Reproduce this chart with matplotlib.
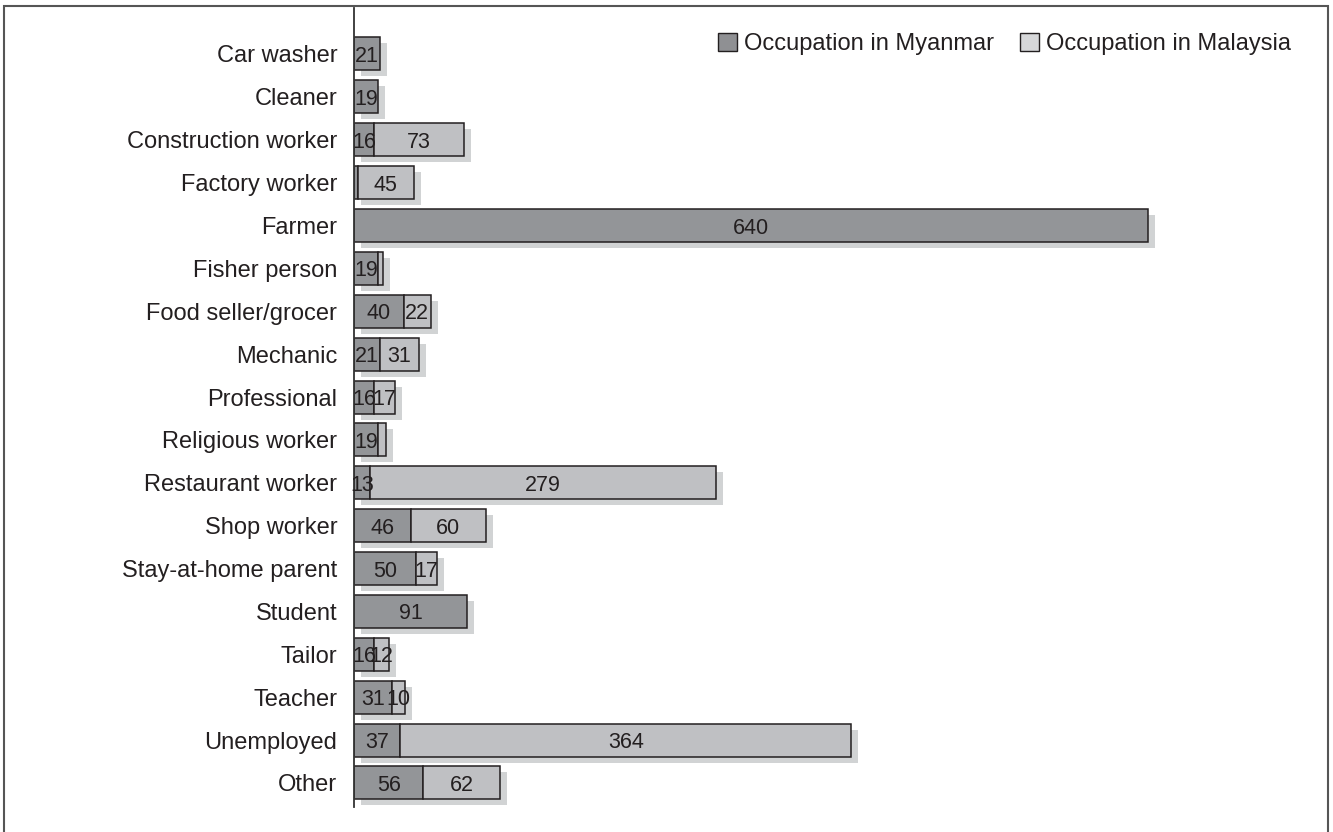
import matplotlib
matplotlib.use("Agg")
import matplotlib.pyplot as plt
from matplotlib.patches import Patch, Rectangle
from matplotlib.transforms import ScaledTranslation

plt.rcParams['font.family'] = ['Liberation Sans', 'DejaVu Sans']

categories = ["Car washer", "Cleaner", "Construction worker", "Factory worker", "Farmer",
              "Fisher person", "Food seller/grocer", "Mechanic", "Professional",
              "Religious worker", "Restaurant worker", "Shop worker", "Stay-at-home parent",
              "Student", "Tailor", "Teacher", "Unemployed", "Other"]
myanmar = [21, 19, 16, 3, 640, 19, 40, 21, 16, 19, 13, 46, 50, 91, 16, 31, 37, 56]
malaysia = [0, 0, 73, 45, 0, 4, 22, 31, 17, 7, 279, 60, 17, 0, 12, 10, 364, 62]
series_names = ["Occupation in Myanmar", "Occupation in Malaysia"]

c_my = '#939598'
c_ma = '#bfc0c3'
c_shadow = '#d1d3d4'
c_edge = '#231f20'

W, H = 1333, 832
fig = plt.figure(figsize=(W / 100, H / 100), dpi=100)
ax = fig.add_axes([354 / W, (H - 807) / H, (1310 - 354) / W, (807 - 8) / H])

n = len(categories)
y = list(range(n))
bh = 0.77
totals = [a + b for a, b in zip(myanmar, malaysia)]

# shadow
shadow_tr = ax.transData + ScaledTranslation(7 / 100, -6 / 100, fig.dpi_scale_trans)
sh = ax.barh(y, totals, height=bh, color=c_shadow, linewidth=0, zorder=1)
for p in sh:
    p.set_transform(shadow_tr)

b1 = ax.barh(y, myanmar, height=bh, color=c_my, edgecolor=c_edge, linewidth=1.1, zorder=2)
b2 = ax.barh(y, malaysia, left=myanmar, height=bh, color=c_ma, edgecolor=c_edge,
             linewidth=1.1, zorder=2)
for i, (a, b) in enumerate(zip(myanmar, malaysia)):
    if b == 0:
        b2[i].set_visible(False)
    if a >= 10:
        ax.text(a / 2, i, str(a), ha='center', va='center_baseline', fontsize=15.5,
                color=c_edge, zorder=3)
    if b >= 10:
        ax.text(a + b / 2, i, str(b), ha='center', va='center_baseline', fontsize=15.5,
                color=c_edge, zorder=3)

ax.set_xlim(0, (1310 - 354) / 1.2406)
ax.set_ylim(17.56, -1.072)
ax.set_yticks(y)
ax.set_yticklabels(categories, fontsize=17, color=c_edge)
ax.tick_params(axis='y', length=0, pad=12)
ax.set_xticks([])
for s in ['top', 'right', 'bottom']:
    ax.spines[s].set_visible(False)
ax.spines['left'].set_color('#333333')
ax.spines['left'].set_linewidth(1.3)

handles = [Patch(facecolor='#8f9093', edgecolor=c_edge, linewidth=1.0),
           Patch(facecolor='#d6d7d9', edgecolor=c_edge, linewidth=1.0)]
fig.legend(handles, series_names, loc='upper right', bbox_to_anchor=(1303 / W, 1 - 21 / H),
           ncol=2, frameon=False, fontsize=17, handlelength=0.8, handleheight=0.8,
           handletextpad=0.3, columnspacing=1.1, borderpad=0, labelcolor=c_edge)

fig.add_artist(Rectangle((4 / W, -0.1), (1328 - 4) / W, (H - 6) / H + 0.1,
                         transform=fig.transFigure, fill=False, edgecolor='#555555',
                         linewidth=1.5))

fig.savefig('out.png', dpi=100)
